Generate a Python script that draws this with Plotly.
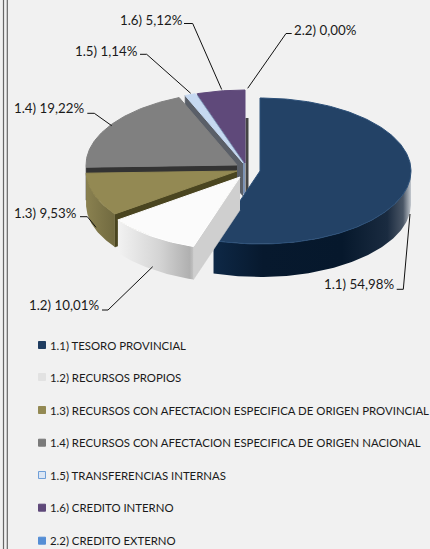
import numpy as np
import plotly.graph_objects as go

codes = ["1.1)", "1.2)", "1.3)", "1.4)", "1.5)", "1.6)", "2.2)"]
names = ["TESORO PROVINCIAL", "RECURSOS PROPIOS",
         "RECURSOS CON AFECTACION ESPECIFICA DE ORIGEN PROVINCIAL",
         "RECURSOS CON AFECTACION ESPECIFICA DE ORIGEN NACIONAL",
         "TRANSFERENCIAS INTERNAS", "CREDITO INTERNO", "CREDITO EXTERNO"]
shares = [54.98, 10.01, 9.53, 19.22, 1.14, 5.12, 0.00]
share_labels = ["54,98%", "10,01%", "9,53%", "19,22%", "1,14%", "5,12%", "0,00%"]

# --- styling / layout ---
W, H = 430, 549
BG = "#f1f1f1"
FONT = "Lato, 'Open Sans', sans-serif"
RX, RY, DEPTH = 151, 73, 33
apex = [(260, 171), (240, 177), (237, 171), (237, 165), (243, 163), (245, 163), (247, 163)]
top_col = ["#234266", "#fbfbfb", "#938953", "#808080", "#c6d9f1", "#5f497a", "#558ed5"]
edge_col = ["#2c5079", "#ffffff", "#938953", "#808080", "#c6d9f1", "#5f497a", "#558ed5"]
wall_col = ["#0b2340", "#cfcfcf", "#4a4520", "#333333", "#5a5f68", "#7d93b5", "#558ed5"]
STRIP_COL = "#444444"
outer_scale = [
    [[0, "#0e2846"], [0.25, "#07192e"], [0.65, "#06182c"], [0.88, "#1a2b40"],
     [0.96, "#4a5666"], [1, "#c3c8ce"]],
    [[0, "#f2f2f2"], [0.55, "#d4d4d4"], [0.95, "#b0b0b0"], [1, "#c4c4c4"]],
    [[0, "#8a8150"], [1, "#716a40"]],
    [[0, "#6a6a6a"], [1, "#6a6a6a"]],
    [[0, "#9fb2cc"], [1, "#9fb2cc"]],
    [[0, "#4a3860"], [1, "#4a3860"]],
    [[0, "#558ed5"], [1, "#558ed5"]],
]
swatch_col = ["#1f3c60", "#e2e2e2", "#938953", "#7a7a7a", "#dbe6f4", "#5f497a", "#558ed5"]
swatch_line = ["#1f3c60", "#e2e2e2", "#938953", "#7a7a7a", "#6f9fd8", "#5f497a", "#558ed5"]
legend_y = [345, 377, 410, 442.7, 475, 507.7, 540.7]
label_pos = [(323, 284), (28, 305), (13, 212.7), (13, 108), (74, 50.7), (119, 20), (293, 30)]
leaders = [
    [(396.7, 289.3), (403.3, 289.3), (410, 214)],
    [(102, 310), (108, 310), (152.7, 266.7)],
    [(80, 216.7), (87.3, 216.7), (96, 227.3)],
    [(87.3, 113.3), (94.3, 113.3), (111.7, 125.7)],
    [(140, 54.3), (146.7, 54.3), (190.7, 93.3)],
    [(184, 23.5), (192.7, 23.5), (221.7, 89.5)],
    [(291.7, 33.5), (286, 33.5), (247.7, 88.3)],
]

# slice angles from the values (clockwise from 12 o'clock)
bounds = np.radians(np.concatenate([[0], np.cumsum(shares)]) * 3.6)


def arc(i, a, b):
    t = np.linspace(a, b, max(2, int(abs(b - a) * 60)))
    return apex[i][0] + RX * np.sin(t), apex[i][1] - RY * np.cos(t)


fig = go.Figure()


def poly(x, y, name, color=None, scale=None, line=None, lw=0.6):
    kw = dict(fillgradient=dict(type="horizontal", colorscale=scale)) if scale else dict(fillcolor=color)
    fig.add_trace(go.Scatter(x=list(x), y=list(y), mode="lines", fill="toself",
                             line=dict(color=line or color or "rgba(0,0,0,0)", width=lw),
                             name=name, hoverinfo="name", showlegend=False, **kw))


# painter's order: far slices first
for i in [5, 4, 3, 2, 0, 1]:
    a, b = bounds[i], bounds[i + 1]
    name = f"{codes[i]} {names[i]}: {share_labels[i]}"
    ax, ay = apex[i]
    sx, sy = arc(i, a, a)
    ex, ey = arc(i, b, b)
    # radial wall on the slice's leading edge, where it faces the viewer
    if np.sin(a) < -1e-6:
        poly([ax, sx[0], sx[0], ax], [ay, sy[0], sy[0] + DEPTH, ay + DEPTH], name, wall_col[i])
    # dark strip seen beside the vertical trailing edge of the last slice
    if i == 5:
        fig.add_trace(go.Scatter(x=[ax + 2, ax + 2], y=[ey[-1] + 28, ay + DEPTH - 1], mode="lines",
                                 line=dict(color=STRIP_COL, width=3), name=name, hoverinfo="name",
                                 showlegend=False))
    # outer rim (only the front half is visible)
    fa, fb = max(a, np.pi / 2), min(b, 3 * np.pi / 2)
    if fb > fa:
        rx, ry = arc(i, fa, fb)
        poly(np.r_[rx, rx[::-1]], np.r_[ry, ry[::-1] + DEPTH], name, scale=outer_scale[i])
    # top face
    ox, oy = arc(i, a, b)
    poly(np.r_[ax, ox, ax], np.r_[ay, oy, ay], name, top_col[i], line=edge_col[i], lw=1)

# leader lines
for pts in leaders:
    fig.add_shape(type="path", xref="x", yref="y",
                  path="M " + " L ".join(f"{px},{py}" for px, py in pts),
                  line=dict(color="#111111", width=1))

# frame rules at the left
for xp in (3.5, 7.3):
    fig.add_shape(type="line", xref="x", yref="y", x0=xp, x1=xp, y0=0, y1=H,
                  line=dict(color="#666666", width=1.2))

anns = []
for i in range(len(codes)):
    anns.append(dict(x=label_pos[i][0], y=label_pos[i][1], xref="x", yref="y", xanchor="left", yanchor="middle",
                     text=f"{codes[i]} {share_labels[i]}", showarrow=False, xshift=-1,
                     font=dict(family=FONT, size=13.3, color="#1a1a1a")))
    anns.append(dict(x=49, y=legend_y[i], xref="x", yref="y", xanchor="left", yanchor="middle",
                     text=f"{codes[i]} {names[i]}", showarrow=False, xshift=-1,
                     font=dict(family=FONT, size=11.4, color="#1a1a1a")))
    fig.add_shape(type="rect", xref="x", yref="y", x0=38.5, x1=45.5,
                  y0=legend_y[i] - 3.5, y1=legend_y[i] + 3.5,
                  fillcolor=swatch_col[i], line=dict(color=swatch_line[i], width=1))

fig.update_layout(
    width=W, height=H, margin=dict(l=0, r=0, t=0, b=0),
    paper_bgcolor=BG, plot_bgcolor=BG, showlegend=False, annotations=anns,
    xaxis=dict(range=[0, W], visible=False, fixedrange=True),
    yaxis=dict(range=[H, 0], visible=False, fixedrange=True),
)
fig.write_html("out.html", config=dict(displayModeBar=False),
               post_script="document.body.style.margin='0';document.body.style.overflow='hidden';")
